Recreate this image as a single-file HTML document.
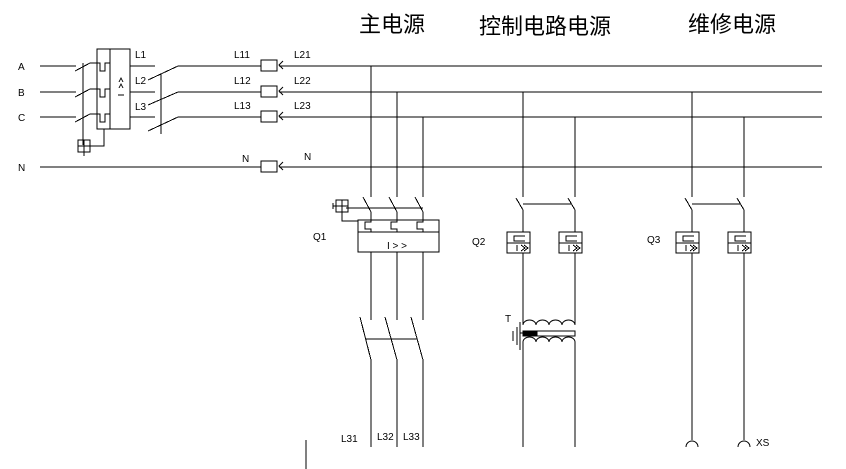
<!DOCTYPE html>
<html><head><meta charset="utf-8"><style>
html,body{margin:0;padding:0;background:#fff;width:846px;height:469px;overflow:hidden}
svg{display:block}
text{font-family:"Liberation Sans",sans-serif;font-size:10px;fill:#000}
.t{font-family:"Liberation Sans","Noto Sans CJK SC",sans-serif;font-size:22px}
</style></head><body>
<svg width="846" height="469" viewBox="0 0 846 469" stroke="#000" stroke-width="1" fill="none" shape-rendering="crispEdges">
<g stroke="none">
<text class="t" x="359" y="32">主电源</text>
<text class="t" x="479" y="34">控制电路电源</text>
<text class="t" x="688" y="32">维修电源</text>
<text x="18" y="70">A</text><text x="18" y="96">B</text><text x="18" y="121">C</text><text x="18" y="171">N</text>
<text x="135" y="58">L1</text><text x="135" y="84">L2</text><text x="135" y="110">L3</text>
<text x="234" y="58">L11</text><text x="234" y="84">L12</text><text x="234" y="109">L13</text>
<text x="294" y="58">L21</text><text x="294" y="84">L22</text><text x="294" y="109">L23</text>
<text x="242" y="162">N</text><text x="304" y="160">N</text>
<text x="313" y="240">Q1</text><text x="472" y="245">Q2</text><text x="647" y="243">Q3</text>
<text x="505" y="322">T</text>
<text x="341" y="442">L31</text><text x="377" y="440">L32</text><text x="403" y="440">L33</text>
<text x="756" y="446">XS</text>
<text x="387" y="249" font-size="11">I &gt; &gt;</text>
</g>
<path d="M40 66H76M40 92H76M40 117H76M40 167H261"/>
<path d="M75 71L90 63M75 97L90 89M75 122L90 114M83 63V145"/>
<rect x="97" y="49" width="33" height="80"/>
<path d="M110 49V129"/>
<path d="M90 63H100V71H105V63H110M90 89H100V97H105V89H110M90 114H100V122H105V114H110"/>
<path d="M119 82l2-4 2 4M119 88l2-4 2 4M118 95h6"/>
<rect x="78" y="140" width="12" height="12"/><path d="M84 140v12M78 146h12M84 152v4M90 146h14V129"/>
<path d="M130 66H155M130 92H155M130 117H155"/>
<path d="M148 80L178 66M148 105L178 92M148 131L178 117M161 74V134"/>
<path d="M178 66H261M178 92H261M178 117H261"/>
<rect x="261" y="60" width="16" height="11"/><rect x="261" y="86" width="16" height="11"/><rect x="261" y="111" width="16" height="11"/><rect x="261" y="161" width="16" height="11"/>
<path d="M283 61l-4 4 4 4M283 87l-4 4 4 4M283 112l-4 4 4 4M283 162l-4 4 4 4" shape-rendering="auto"/>
<path d="M279 66H822M279 92H822M279 117H822M279 167H822"/>
<path d="M371 66V197M397 92V197M423 117V197"/>
<path d="M363 197L371 212M389 197L397 212M415 197L423 212M346 208H423"/>
<rect x="336" y="200" width="12" height="12"/><path d="M342 200v12M336 206h12M333 206h3M333 203v6M342 212v9H358"/>
<rect x="358" y="220" width="81" height="32"/><path d="M358 232H439"/>
<path d="M371 212V222H365V229H371V232M397 212V222H391V229H397V232M423 212V222H417V229H423V232"/>
<path d="M371 252V320M397 252V320M423 252V320"/>
<path d="M360 317L371 360M385 317L397 360M411 317L423 360M365 339H417"/>
<path d="M371 360V447M397 360V447M423 360V447M306 440V469"/>
<path d="M523 92V197M575 117V197M692 92V197M744 117V197"/>
<path d="M516 198L523 210M568 198L575 210M523 204H572M685 198L692 210M737 198L744 210M692 204H741"/>
<path d="M523 210V232M575 210V232M692 210V232M744 210V232"/>
<g>
<rect x="507" y="232" width="23" height="21"/><path d="M507 243H530M525 236H514V241H525M517 251V245M521 245l4 3-4 3M524 245l4 3-4 3"/>
<rect x="559" y="232" width="23" height="21"/><path d="M559 243H582M577 236H566V241H577M569 251V245M573 245l4 3-4 3M576 245l4 3-4 3"/>
<rect x="676" y="232" width="23" height="21"/><path d="M676 243H699M694 236H683V241H694M686 251V245M690 245l4 3-4 3M693 245l4 3-4 3"/>
<rect x="728" y="232" width="23" height="21"/><path d="M728 243H751M746 236H735V241H746M738 251V245M742 245l4 3-4 3M745 245l4 3-4 3"/>
</g>
<path d="M523 253V324M575 253V324M692 253V440M744 253V440"/>
<path shape-rendering="auto" d="M523 325a6.5 5 0 0 1 13 0a6.5 5 0 0 1 13 0a6.5 5 0 0 1 13 0a6.5 5 0 0 1 13 0M523 342a6.5 5 0 0 1 13 0a6.5 5 0 0 1 13 0a6.5 5 0 0 1 13 0a6.5 5 0 0 1 13 0"/>
<rect x="523" y="331" width="52" height="5"/><rect x="523" y="331" width="14" height="5" fill="#000"/>
<path d="M520 322V350M517 327V345M513 331V341M520 333H523"/>
<path d="M523 342V447M575 342V447"/>
<path shape-rendering="auto" d="M686 447a6 6 0 0 1 12 0M738 447a6 6 0 0 1 12 0"/>
</svg>
</body></html>
